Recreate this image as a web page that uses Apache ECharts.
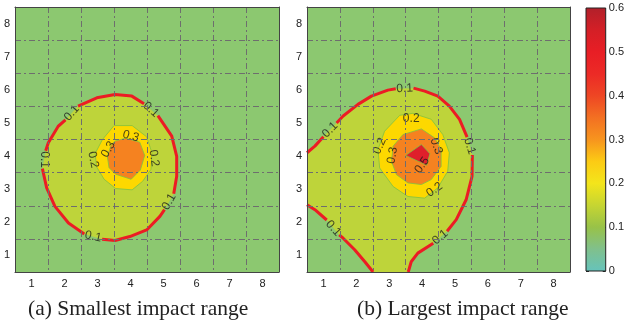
<!DOCTYPE html>
<html>
<head>
<meta charset="UTF-8" />
<script src="https://cdn.jsdelivr.net/npm/echarts@6/dist/echarts.min.js"></script>
<style>
  html, body, #main { margin: 0; padding: 0; width: 627px; height: 324px; background: #fff; }
</style>
</head>
<body>
<div id="main"></div>
<script>
// axis tick labels
const axisTicks = [1, 2, 3, 4, 5, 6, 7, 8];
const cbTicks = [0, 0.1, 0.2, 0.3, 0.4, 0.5, 0.6];
const cbColors = ['#66c3bb', '#80c08c', '#98c248', '#c6d532', '#f3e51b', '#fccb14', '#f7941e',
                  '#f37022', '#ee4624', '#ec2a26', '#e81e25', '#d41f26', '#b2202a'];

// (a) smallest impact range: 0.1 contour, split where the labels sit
const leftRed = [
  [[2.41, 5.51], [2.98, 5.76], [3.53, 5.86], [4.04, 5.81], [4.41, 5.58]],
  [[4.83, 5.22], [5.25, 4.60], [5.40, 3.99], [5.40, 3.39], [5.31, 2.86]],
  [[5.03, 2.38], [4.89, 2.18], [4.49, 1.77], [3.98, 1.57], [3.53, 1.45], [3.14, 1.49]],
  [[2.60, 1.65], [2.12, 1.98], [1.71, 2.48], [1.46, 3.04], [1.33, 3.62]],
  [[1.43, 4.16], [1.51, 4.40], [1.81, 4.90], [2.03, 5.09]]
];
const leftYellow = [[3.50, 4.92], [4.05, 4.92], [4.49, 4.58], [4.65, 4.10], [4.62, 3.60], [4.37, 3.24],
  [4.05, 2.98], [3.55, 3.02], [3.20, 3.30], [2.97, 3.68], [2.93, 4.08], [3.15, 4.50]];
const leftOrange = [[3.52, 4.45], [3.85, 4.54], [4.28, 4.42], [4.43, 4.02], [4.30, 3.58], [4.02, 3.30],
  [3.55, 3.45], [3.35, 3.65], [3.30, 3.98], [3.40, 4.30]];
const leftLabels = [[2.22, 5.30, '0.1'], [4.62, 5.40, '0.1'], [5.17, 2.62, '0.1'], [2.87, 1.57, '0.1'],
  [1.38, 3.89, '0.1'], [4.01, 4.60, '0.3'], [3.33, 4.20, '0.3'], [2.87, 3.89, '0.2'], [4.71, 3.94, '0.2']];
const leftLabelRot = [48, -42, 60, -12, -90, -15, 60, -78, -82];

// (b) largest impact range
const rightUpper = [
  [[0.50, 4.10], [0.74, 4.30], [1.00, 4.58]],
  [[1.40, 5.00], [1.60, 5.21], [2.05, 5.56], [2.46, 5.81], [2.96, 5.99], [3.20, 6.03]],
  [[3.74, 6.05], [4.08, 5.96], [4.48, 5.81], [4.83, 5.51], [5.14, 5.11], [5.37, 4.57]],
  [[5.53, 4.03], [5.52, 3.39], [5.34, 2.68], [5.04, 2.08], [4.76, 1.73]],
  [[4.34, 1.37], [3.87, 1.07], [3.67, 0.81], [3.58, 0.50]]
];
const rightLower = [
  [[0.50, 2.53], [0.74, 2.38], [1.10, 2.07]],
  [[1.48, 1.62], [1.60, 1.52], [1.95, 1.17], [2.26, 0.81], [2.51, 0.50]]
];
const rightYellow = [[3.32, 5.23], [3.72, 5.29], [4.28, 5.11], [4.63, 4.65], [4.83, 4.10], [4.78, 3.54],
  [4.48, 3.04], [4.08, 2.73], [3.57, 2.78], [3.12, 3.08], [2.71, 3.64], [2.66, 4.20], [2.86, 4.75]];
const rightOrange = [[3.42, 4.65], [3.98, 4.82], [4.38, 4.55], [4.58, 4.20], [4.58, 3.69], [4.28, 3.29],
  [3.98, 3.14], [3.57, 3.19], [3.22, 3.44], [3.07, 3.84], [3.12, 4.30]];
const rightRed = [[3.50, 4.02], [3.98, 4.35], [4.24, 4.07], [4.14, 3.72]];
const rightLabels = [[3.47, 6.04, '0.1'], [1.20, 4.79, '0.1'], [5.45, 4.30, '0.1'], [1.30, 1.82, '0.1'],
  [4.55, 1.55, '0.1'], [3.67, 5.14, '0.2'], [2.71, 4.30, '0.2'], [3.10, 4.02, '0.3'], [4.43, 4.30, '0.3'],
  [4.00, 3.72, '0.5'], [4.38, 2.98, '0.2']];
const rightLabelRot = [3, 45, -72, -48, 40, 0, 65, 80, -70, 55, 35];

const leftFills = [leftRed.flat(), leftYellow, leftOrange];
const rightFills = [[...rightUpper.flat(), ...rightLower.flat().reverse()], rightYellow, rightOrange, rightRed];
const fillColors = ['#bed43a', '#fdd800', '#f58220', '#df1f2b'];

const chart = echarts.init(document.getElementById('main'));
const tickFont = { fontFamily: 'Liberation Sans', fontSize: 11, color: '#222' };
const dash = { color: '#6e6e6e', width: 1, type: [6, 3, 2, 3] };
const boxLine = { show: true, lineStyle: { color: '#444', width: 1 } };

function mainAxes(grid) {
  const x = [
    { gridIndex: grid, type: 'value', min: 0.5, max: 8.5, position: 'bottom', z: 6,
      axisLine: boxLine, axisTick: { show: false }, splitLine: { show: false },
      axisLabel: Object.assign({ customValues: axisTicks, margin: 6 }, tickFont) },
    { gridIndex: grid, type: 'value', min: 0, max: 8, interval: 1, position: 'top', z: 6,
      axisLine: boxLine, axisTick: { show: false }, axisLabel: { show: false },
      splitLine: { show: true, lineStyle: dash } }
  ];
  const y = [
    { gridIndex: grid, type: 'value', min: 0.5, max: 8.5, position: 'left', z: 6,
      axisLine: boxLine, axisTick: { show: false }, splitLine: { show: false },
      axisLabel: Object.assign({ customValues: axisTicks, margin: 5 }, tickFont) },
    { gridIndex: grid, type: 'value', min: 0, max: 8, interval: 1, position: 'right', z: 6,
      axisLine: boxLine, axisTick: { show: false }, axisLabel: { show: false },
      splitLine: { show: true, lineStyle: dash } }
  ];
  return { x, y };
}

function fillSeries(polys, ax) {
  return {
    type: 'custom', xAxisIndex: ax, yAxisIndex: ax, clip: true, z: 2, silent: true,
    data: polys.map((p, i) => [p[0][0], p[0][1], i]),
    renderItem: (params, api) => ({
      type: 'polygon',
      shape: { points: polys[params.dataIndex].map(pt => api.coord(pt)) },
      style: { fill: fillColors[params.dataIndex], stroke: params.dataIndex ? '#7dc142' : 'none', lineWidth: 0.8 }
    })
  };
}

function redLines(segs, ax) {
  return segs.map(s => ({
    type: 'line', xAxisIndex: ax, yAxisIndex: ax, data: s, symbol: 'none', z: 3, silent: true,
    lineStyle: { color: '#ec1c24', width: 3 }
  }));
}

function labelSeries(labels, rots, ax) {
  return {
    type: 'scatter', xAxisIndex: ax, yAxisIndex: ax, symbolSize: 0, z: 4, silent: true,
    data: labels.map((l, i) => ({ value: [l[0], l[1]], label: { rotate: rots[i] } })),
    label: { show: true, position: 'inside', formatter: p => labels[p.dataIndex][2],
      fontFamily: 'Liberation Sans', fontSize: 12, color: '#1a1a1a' }
  };
}

const a = mainAxes(0), b = mainAxes(1);

chart.setOption({
  animation: false,
  grid: [
    { left: 15, top: 7, width: 264, height: 265, show: true, backgroundColor: '#8cc870', borderWidth: 0 },
    { left: 307, top: 7, width: 263, height: 265, show: true, backgroundColor: '#8cc870', borderWidth: 0 },
    { left: 586, top: 8, width: 20, height: 263, show: true, borderColor: '#222', borderWidth: 1, z: 10 }
  ],
  xAxis: [...a.x, ...b.x,
    { gridIndex: 2, type: 'category', data: ['c'], axisLine: { show: false }, axisTick: { show: false }, axisLabel: { show: false } }],
  yAxis: [...a.y, ...b.y,
    { gridIndex: 2, type: 'value', min: 0, max: 0.6, interval: 0.1, position: 'right', splitLine: { show: false },
      axisLine: { show: false }, axisTick: { show: true, inside: true, length: 3, lineStyle: { color: '#222' } },
      axisLabel: { margin: 3, fontSize: 11, fontFamily: 'Liberation Sans', color: '#222', formatter: v => String(+v.toFixed(1)) } },
    { gridIndex: 2, type: 'value', min: 0, max: 0.6, interval: 0.1, position: 'left', splitLine: { show: false },
      axisLine: { show: false }, axisLabel: { show: false },
      axisTick: { show: true, inside: true, length: 3, lineStyle: { color: '#222' } } }],
  series: [
    fillSeries(leftFills, 0),
    ...redLines(leftRed, 0),
    labelSeries(leftLabels, leftLabelRot, 0),
    fillSeries(rightFills, 2),
    ...redLines([...rightUpper, ...rightLower], 2),
    labelSeries(rightLabels, rightLabelRot, 2),
    { type: 'bar', xAxisIndex: 4, yAxisIndex: 4, data: [cbTicks[cbTicks.length - 1]], barWidth: '100%', z: 1, silent: true,
      itemStyle: { color: new echarts.graphic.LinearGradient(0, 1, 0, 0,
        cbColors.map((c, i) => ({ offset: i / (cbColors.length - 1), color: c }))) } }
  ],
  graphic: [
    { type: 'text', left: 28, top: 298, style: { text: '(a) Smallest impact range', font: '21.5px "Liberation Serif"', fill: '#222' } },
    { type: 'text', left: 357, top: 298, style: { text: '(b) Largest impact range', font: '21.5px "Liberation Serif"', fill: '#222' } }
  ]
});
</script>
</body>
</html>
